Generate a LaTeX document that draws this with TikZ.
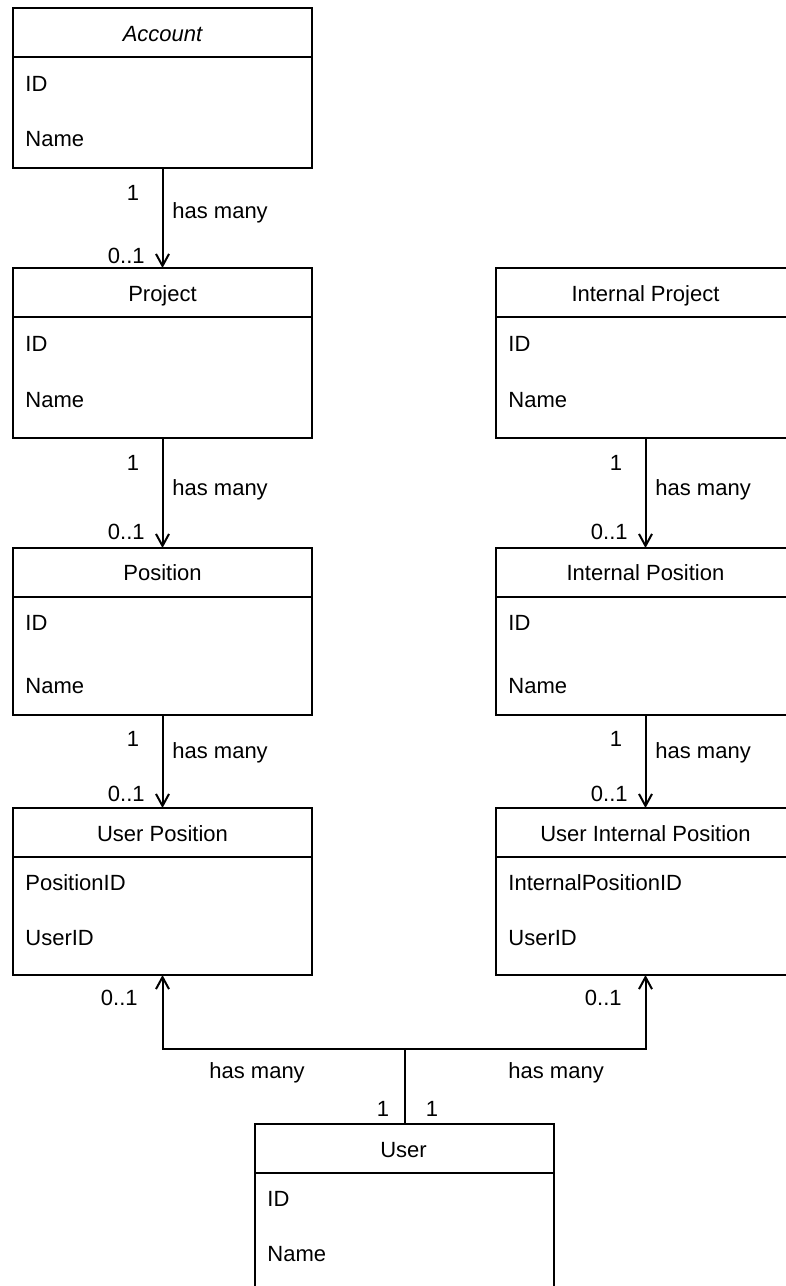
\documentclass[tikz,border=0pt]{standalone}
\usepackage{fontspec}
\setmainfont{Liberation Sans}
\usetikzlibrary{arrows.meta,calc}
\begin{document}
\begin{tikzpicture}[x=0.5pt,y=-0.5pt,
  umlbox/.style={draw,line width=1pt,anchor=north west,minimum width=149.5pt,inner sep=0pt,outer sep=0pt},
  hdr/.style={line width=1pt},
  ttl/.style={anchor=base,inner sep=0pt,font=\fontsize{11}{13}\selectfont},
  fld/.style={anchor=base west,inner sep=0pt,font=\fontsize{11}{13}\selectfont},
  lblr/.style={anchor=base east,inner sep=0pt,font=\fontsize{11}{13}\selectfont},
  lblc/.style={anchor=base,inner sep=0pt,font=\fontsize{11}{13}\selectfont},
  assoc/.style={line width=1pt,-{Straight Barb[length=6pt,width=6.5pt,line width=1pt]}},
  link/.style={line width=1pt}]
\useasboundingbox (0,0) rectangle (786,1286);
\fill[white] (0,0) rectangle (786,1286);
\begin{scope}
\clip (0,0) rectangle (786,1286);
% boxes
\node[umlbox,minimum height=80pt] (acc) at (13,8) {};
\node[umlbox,minimum height=85pt] (proj) at (13,268) {};
\node[umlbox,minimum height=85pt] (iproj) at (496,268) {};
\node[umlbox,minimum height=83.5pt] (pos) at (13,548) {};
\node[umlbox,minimum height=83.5pt] (ipos) at (496,548) {};
\node[umlbox,minimum height=83.5pt] (up) at (13,808) {};
\node[umlbox,minimum height=83.5pt] (uip) at (496,808) {};
\node[umlbox,minimum height=83.5pt] (user) at (255,1124) {};
% header lines
\foreach \b in {acc,proj,iproj,pos,ipos,up,uip,user}
  \draw[hdr] ($(\b.north west)+(0,49)$) -- ($(\b.north east)+(0,49)$);
% titles and fields
\node[ttl] (accT) at (162.5,41) {\itshape Account};
\node[fld] (accA) at (25,91) {ID};
\node[fld] (accB) at (25,146) {Name};
\node[ttl] (projT) at (162.5,301) {Project};
\node[fld] (projA) at (25,351) {ID};
\node[fld] (projB) at (25,407) {Name};
\node[ttl] (iprojT) at (645.5,301) {Internal Project};
\node[fld] (iprojA) at (508,351) {ID};
\node[fld] (iprojB) at (508,407) {Name};
\node[ttl] (posT) at (162.5,580) {Position};
\node[fld] (posA) at (25,630) {ID};
\node[fld] (posB) at (25,693) {Name};
\node[ttl] (iposT) at (645.5,580) {Internal Position};
\node[fld] (iposA) at (508,630) {ID};
\node[fld] (iposB) at (508,693) {Name};
\node[ttl] (upT) at (162.5,841) {User Position};
\node[fld] (upA) at (25,890) {PositionID};
\node[fld] (upB) at (25,945) {UserID};
\node[ttl] (uipT) at (645.5,841) {User Internal Position};
\node[fld] (uipA) at (508,890) {InternalPositionID};
\node[fld] (uipB) at (508,945) {UserID};
\node[ttl] (userT) at (403.5,1157) {User};
\node[fld] (userA) at (267,1206) {ID};
\node[fld] (userB) at (267,1261) {Name};
% connectors
\draw[assoc] (acc.south) -- (proj.north);
\draw[assoc] (proj.south) -- (pos.north);
\draw[assoc] (pos.south) -- (up.north);
\draw[assoc] (iproj.south) -- (ipos.north);
\draw[assoc] (ipos.south) -- (uip.north);
\coordinate (j) at (403.5,1049);
\draw[link] (user.north) -- (user.north |- j);
\draw[assoc] (user.north |- j) -| (up.south);
\draw[assoc] (user.north |- j) -| (uip.south);
% connector labels
\node[lblc] (l1a) at (133,200) {1};
\node[fld] (l1b) at (172,218) {has many};
\node[lblr] (l1c) at (145,263) {0..1};
\node[lblc] (l2a) at (133,470) {1};
\node[fld] (l2b) at (172,495) {has many};
\node[lblr] (l2c) at (145,539) {0..1};
\node[lblc] (l3a) at (133,746) {1};
\node[fld] (l3b) at (172,758) {has many};
\node[lblr] (l3c) at (145,801) {0..1};
\node[lblc] (l4a) at (616,470) {1};
\node[fld] (l4b) at (655,495) {has many};
\node[lblr] (l4c) at (628,539) {0..1};
\node[lblc] (l5a) at (616,746) {1};
\node[fld] (l5b) at (655,758) {has many};
\node[lblr] (l5c) at (628,801) {0..1};
\node[lblr] (l6c) at (138,1005) {0..1};
\node[lblr] (l7c) at (622,1005) {0..1};
\node[fld] (l6b) at (209,1078) {has many};
\node[fld] (l7b) at (508,1078) {has many};
\node[lblc] (l6a) at (383,1116) {1};
\node[lblc] (l7a) at (432,1116) {1};
\end{scope}
\end{tikzpicture}
\end{document}
